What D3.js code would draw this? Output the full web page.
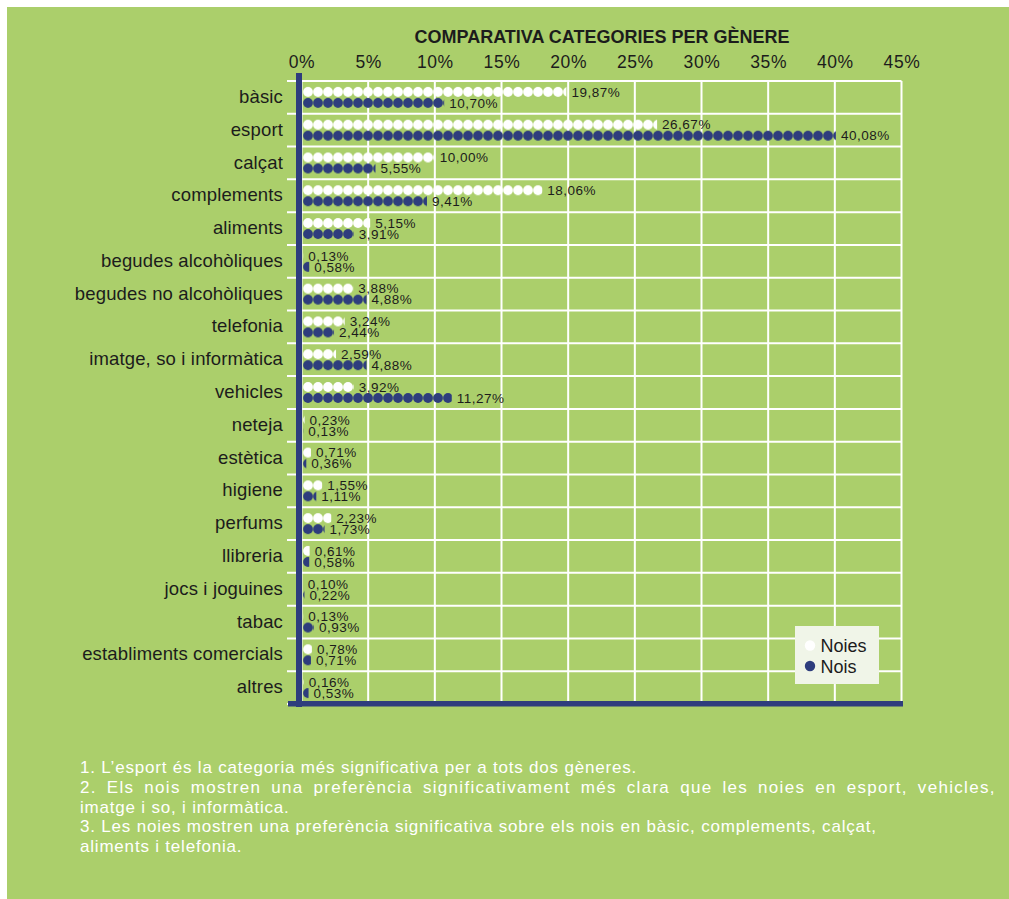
<!DOCTYPE html>
<html>
<head>
<meta charset="utf-8">
<script src="https://cdn.jsdelivr.net/npm/d3@7/dist/d3.min.js"></script>
<style>
  html, body { margin: 0; padding: 0; background: #ffffff; }
  svg { display: block; }
  text { font-family: "Liberation Sans", Arial, Helvetica, sans-serif; }
</style>
</head>
<body>
<svg id="chart" width="1009" height="899"></svg>
<script>
// Categories (top to bottom) and the share of purchases per gender, in %
const categories = [
  "bàsic", "esport", "calçat", "complements", "aliments",
  "begudes alcohòliques", "begudes no alcohòliques", "telefonia",
  "imatge, so i informàtica", "vehicles", "neteja", "estètica",
  "higiene", "perfums", "llibreria", "jocs i joguines", "tabac",
  "establiments comercials", "altres"
];
const noies = [19.87, 26.67, 10.00, 18.06, 5.15, 0.13, 3.88, 3.24, 2.59, 3.92,
               0.23, 0.71, 1.55, 2.23, 0.61, 0.10, 0.13, 0.78, 0.16];
const nois  = [10.70, 40.08, 5.55, 9.41, 3.91, 0.58, 4.88, 2.44, 4.88, 11.27,
               0.13, 0.36, 1.11, 1.73, 0.58, 0.22, 0.93, 0.71, 0.53];
const seriesNames = ["Noies", "Nois"];
const xTicks = [0, 5, 10, 15, 20, 25, 30, 35, 40, 45];
const title = "COMPARATIVA CATEGORIES PER GÈNERE";
const notes = [
  "1. L’esport és la categoria més significativa per a tots dos gèneres.",
  "2. Els nois mostren una preferència significativament més clara que les noies en esport, vehicles,",
  "imatge i so, i informàtica.",
  "3. Les noies mostren una preferència significativa sobre els nois en bàsic, complements, calçat,",
  "aliments i telefonia."
];
// Spacing per note line (the second line is set slightly looser, justified)
const noteLetterSpacing = [0.8, 1.3, 0.8, 0.8, 0.8];
const noteWordSpacing = [0, 4, 0, 0, 0];

const GREEN = "#abcf6b";
const BLUE = "#2e3d7d";
const WHITE = "#ffffff";
const INK = "#1c1c1c";

const svg = d3.select("#chart");

// Panel background
svg.append("rect").attr("x", 7).attr("y", 7).attr("width", 1002).attr("height", 892)
  .attr("fill", GREEN);

const plot = { left: 301.5, right: 901.5, top: 81, bottom: 704 };

const x = d3.scaleLinear().domain([0, 45]).range([plot.left, plot.right]);
const y = d3.scaleBand().domain(categories).range([plot.top, plot.bottom]).paddingInner(0).paddingOuter(0);

// Title
svg.append("text")
  .attr("x", 602).attr("y", 43)
  .attr("text-anchor", "middle")
  .attr("font-size", 18).attr("font-weight", "bold")
  .attr("fill", INK)
  .text(title);

// Grid: vertical lines at each tick, horizontal lines between categories
const grid = svg.append("g");
grid.selectAll("line.v").data(xTicks).join("line")
  .attr("class", "v")
  .attr("x1", d => x(d)).attr("x2", d => x(d))
  .attr("y1", plot.top).attr("y2", plot.bottom)
  .attr("stroke", WHITE).attr("stroke-width", 2);
const hLines = [plot.top].concat(categories.map(c => y(c) + y.bandwidth()));
grid.selectAll("line.h").data(hLines).join("line")
  .attr("class", "h")
  .attr("x1", 287).attr("x2", x(45))
  .attr("y1", d => d).attr("y2", d => d)
  .attr("stroke", WHITE).attr("stroke-width", 2);

// Top axis labels
const xAxis = d3.axisTop(x).tickValues(xTicks).tickFormat(d => d + "%").tickSize(0).tickPadding(0);
const ax = svg.append("g").attr("transform", `translate(0,${plot.top - 13})`).call(xAxis);
ax.select(".domain").remove();
ax.selectAll("text").attr("font-size", 17.5).attr("fill", INK)
  .attr("letter-spacing", 0.6)
  .attr("font-family", "\"Liberation Sans\", Arial, sans-serif");

// Category labels
const yAxis = d3.axisLeft(y).tickSize(0).tickPadding(0);
const ay = svg.append("g").attr("transform", "translate(283,0)").call(yAxis);
ay.select(".domain").remove();
ay.selectAll("text").attr("font-size", 18.5).attr("fill", INK)
  .attr("letter-spacing", 0.15)
  .attr("dy", "0.3em")
  .attr("font-family", "\"Liberation Sans\", Arial, sans-serif");

// Dotted bars: each bar is a rect filled with a row of touching circles
const defs = svg.append("defs");
const pitch = 10;
const barH = 10;
const rows = [];
categories.forEach((c, i) => {
  rows.push({ cat: c, s: 0, v: noies[i], color: WHITE, off: -10.5 });
  rows.push({ cat: c, s: 1, v: nois[i], color: BLUE, off: 0.5 });
});
rows.forEach((r, k) => {
  const cy = y(r.cat) + y.bandwidth() / 2 + r.off;
  r.y0 = cy;
  const p = defs.append("pattern")
    .attr("id", "dots" + k)
    .attr("patternUnits", "userSpaceOnUse")
    .attr("x", x(0) + 1.5).attr("y", cy)
    .attr("width", pitch).attr("height", barH);
  p.append("circle").attr("cx", pitch / 2).attr("cy", barH / 2).attr("r", 4.9).attr("fill", r.color);
});

const bars = svg.append("g");
bars.selectAll("rect").data(rows).join("rect")
  .attr("x", x(0) + 1.5)
  .attr("y", d => d.y0)
  .attr("width", d => Math.max(0, x(d.v) - x(0) - 1.5))
  .attr("height", barH)
  .attr("fill", (d, k) => `url(#dots${k})`);

// Value labels
const fmt = v => d3.format(".2f")(v).replace(".", ",") + "%";
bars.selectAll("text").data(rows).join("text")
  .attr("x", d => x(d.v) + 5)
  .attr("y", d => d.y0 + barH / 2 + 4.8)
  .attr("font-size", 13.5).attr("letter-spacing", 0.5).attr("fill", INK)
  .text(d => fmt(d.v));

// Axis lines (left and bottom)
svg.append("rect").attr("x", 296).attr("y", 73).attr("width", 6).attr("height", 634).attr("fill", BLUE);
svg.append("rect").attr("x", 288).attr("y", 701).attr("width", 615).attr("height", 5.5).attr("fill", BLUE);

// Legend
const lg = svg.append("g").attr("transform", "translate(795,626)");
lg.append("rect").attr("width", 84).attr("height", 58).attr("fill", "#f0f5e8");
const legendColors = [WHITE, BLUE];
seriesNames.forEach((n, i) => {
  lg.append("circle").attr("cx", 15).attr("cy", 19.5 + i * 20.5).attr("r", 5.2).attr("fill", legendColors[i]);
  lg.append("text").attr("x", 25.5).attr("y", 26 + i * 20.5)
    .attr("font-size", 18).attr("fill", INK).text(n);
});

// Notes below the chart
svg.append("g").selectAll("text").data(notes).join("text")
  .attr("x", 80).attr("y", (d, i) => 773 + i * 19.8)
  .attr("font-size", 17)
  .attr("letter-spacing", (d, i) => noteLetterSpacing[i])
  .attr("word-spacing", (d, i) => noteWordSpacing[i])
  .attr("fill", WHITE)
  .text(d => d);
</script>
</body>
</html>
